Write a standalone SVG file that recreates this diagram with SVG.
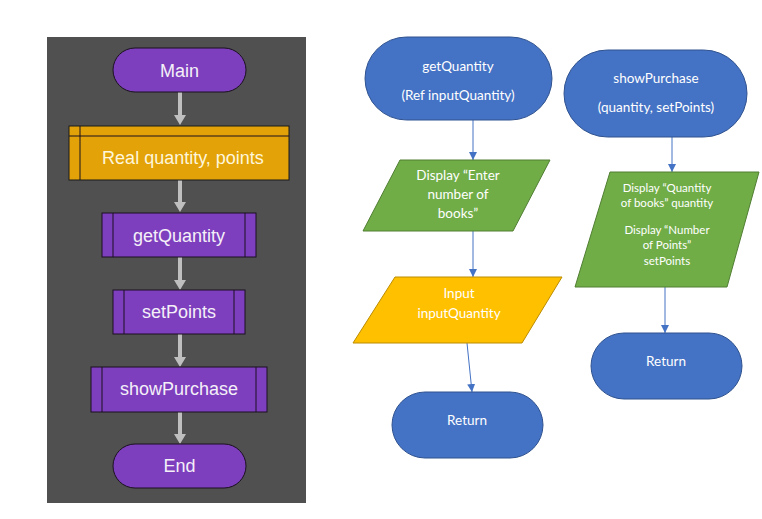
<svg xmlns="http://www.w3.org/2000/svg" width="762" height="519" viewBox="0 0 762 519">
<defs>
<marker id="ba" markerWidth="8" markerHeight="8" refX="8" refY="4" orient="auto" markerUnits="userSpaceOnUse" viewBox="0 0 8 8">
<path d="M0,0 L8,4 L0,8 Z" fill="#4472C4"/>
</marker>
<style>
.pur{fill:#7E3FBE;stroke:#1A1020;stroke-width:1}
.org{fill:#E2A208;stroke:#1A1A1A;stroke-width:1}
.ln{stroke:#1A1020;stroke-width:1;fill:none}
.lt{font-family:"Liberation Sans",Arial,sans-serif;font-size:18px;fill:#F4F0F8;text-anchor:middle;dominant-baseline:central}
.blu{fill:#4472C4;stroke:#2F528F;stroke-width:1}
.grn{fill:#70AD47;stroke:#507E32;stroke-width:1}
.yel{fill:#FFC000;stroke:#BC8C00;stroke-width:1}
.rt{font-family:Lato,"Open Sans",sans-serif;font-size:13.5px;fill:#FFFFFF;text-anchor:middle;dominant-baseline:central}
.st{font-family:Lato,"Open Sans",sans-serif;font-size:11.5px;fill:#FFFFFF;text-anchor:middle;dominant-baseline:central}
.gc{stroke:#BFBFBF;stroke-width:4;fill:none}
.gh{fill:#BFBFBF}
.bc{stroke:#4472C4;stroke-width:1;fill:none;marker-end:url(#ba)}
</style>
</defs>
<rect x="0" y="0" width="762" height="519" fill="#FFFFFF"/>
<rect x="47" y="37" width="259" height="466" fill="#505050"/>

<g id="connectors">
<g id="left-connectors">
<line class="gc" x1="180" y1="92" x2="180" y2="116"/>
<path class="gh" d="M174,115 L186,115 L180,125 Z"/>
<line class="gc" x1="180" y1="180" x2="180" y2="203"/>
<path class="gh" d="M174,202 L186,202 L180,212 Z"/>
<line class="gc" x1="180" y1="257" x2="180" y2="281"/>
<path class="gh" d="M174,280 L186,280 L180,290 Z"/>
<line class="gc" x1="180" y1="334" x2="180" y2="358"/>
<path class="gh" d="M174,357 L186,357 L180,367 Z"/>
<line class="gc" x1="180" y1="412" x2="180" y2="435"/>
<path class="gh" d="M174,434 L186,434 L180,444 Z"/>
</g>
<g id="right-connectors">
<line class="bc" x1="473" y1="120" x2="473" y2="160"/>
<line class="bc" x1="473" y1="231" x2="473" y2="277"/>
<line class="bc" x1="467" y1="343" x2="472" y2="392"/>
<line class="bc" x1="672" y1="137" x2="672" y2="172"/>
<line class="bc" x1="665" y1="287" x2="665" y2="333"/>
</g>
</g>

<g id="main">
<rect class="pur" x="113" y="48" width="133" height="44" rx="22"/>
<text class="lt" x="179.5" y="71">Main</text>
</g>
<g id="declare">
<rect class="org" x="69" y="126" width="220" height="54"/>
<line class="ln" x1="69" y1="136" x2="289" y2="136"/>
<line class="ln" x1="80" y1="126" x2="80" y2="180"/>
<text class="lt" x="183" y="158" style="fill:#FFF6DC">Real quantity, points</text>
</g>
<g id="getQuantityCall">
<rect class="pur" x="102" y="213" width="154" height="44"/>
<line class="ln" x1="113" y1="213" x2="113" y2="257"/>
<line class="ln" x1="245" y1="213" x2="245" y2="257"/>
<text class="lt" x="179" y="236">getQuantity</text>
</g>
<g id="setPointsCall">
<rect class="pur" x="113" y="290" width="132" height="44"/>
<line class="ln" x1="124" y1="290" x2="124" y2="334"/>
<line class="ln" x1="234" y1="290" x2="234" y2="334"/>
<text class="lt" x="179" y="312">setPoints</text>
</g>
<g id="showPurchaseCall">
<rect class="pur" x="91" y="367" width="176" height="45"/>
<line class="ln" x1="102" y1="367" x2="102" y2="412"/>
<line class="ln" x1="256" y1="367" x2="256" y2="412"/>
<text class="lt" x="179" y="389">showPurchase</text>
</g>
<g id="end">
<rect class="pur" x="113" y="444" width="133" height="44" rx="22"/>
<text class="lt" x="179.5" y="466">End</text>
</g>

<g id="getQuantityStart">
<rect class="blu" x="365" y="37" width="187" height="83" rx="41.5"/>
<text class="rt" x="458" y="66">getQuantity</text>
<text class="rt" x="458" y="95">(Ref inputQuantity)</text>
</g>
<g id="displayEnter">
<polygon class="grn" points="400,160 550,160 513,231 363,231"/>
<text class="rt" x="458" y="175">Display “Enter</text>
<text class="rt" x="458" y="194">number of</text>
<text class="rt" x="458" y="213">books”</text>
</g>
<g id="inputQuantity">
<polygon class="yel" points="395,277 562,277 522,343 353,343"/>
<text class="rt" x="459" y="293">Input</text>
<text class="rt" x="459" y="313">inputQuantity</text>
</g>
<g id="returnLeft">
<rect class="blu" x="392" y="392" width="151" height="66" rx="33"/>
<text class="rt" x="467" y="420">Return</text>
</g>

<g id="showPurchaseStart">
<rect class="blu" x="564" y="50" width="183" height="87" rx="43.5"/>
<text class="rt" x="656" y="78">showPurchase</text>
<text class="rt" x="656" y="107">(quantity, setPoints)</text>
</g>
<g id="displayPurchase">
<polygon class="grn" points="610,172 759,172 727,287 575,287"/>
<text class="st" x="667" y="187">Display “Quantity</text>
<text class="st" x="667" y="202">of books” quantity</text>
<text class="st" x="667" y="229">Display “Number</text>
<text class="st" x="667" y="244">of Points”</text>
<text class="st" x="667" y="260">setPoints</text>
</g>
<g id="returnRight">
<rect class="blu" x="591" y="333" width="151" height="66" rx="33"/>
<text class="rt" x="666" y="361">Return</text>
</g>
</svg>
